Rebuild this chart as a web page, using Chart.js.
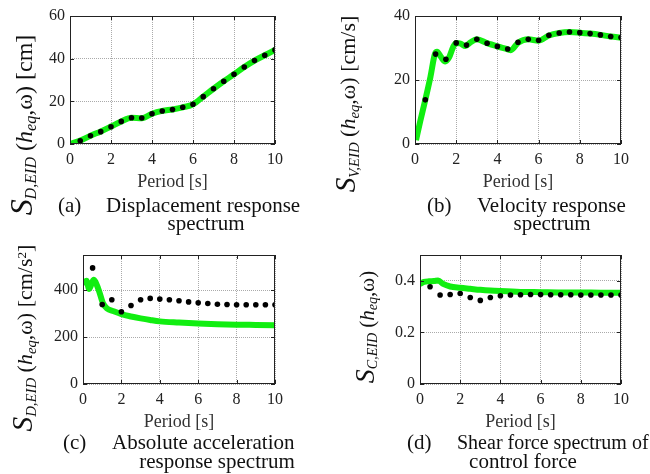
<!DOCTYPE html>
<html><head><meta charset="utf-8">
<script src="https://cdn.jsdelivr.net/npm/chart.js@4.4.0/dist/chart.umd.min.js"></script>
<style>
html,body{margin:0;padding:0;background:#fff;}
#wrap{position:relative;width:650px;height:474px;overflow:hidden;font-family:"Liberation Serif","Times New Roman",serif;color:#111;}
canvas.c{position:absolute;left:0;top:0;}
.yt{position:absolute;white-space:nowrap;line-height:1;transform:translate(-50%,-50%) rotate(-90deg);}
.yt .S{font-size:1.33em;font-style:italic;}
.yt i{font-style:italic;}
.yt sub{font-size:0.67em;font-style:italic;vertical-align:-0.22em;line-height:0;}
.yt sup{font-size:0.6em;vertical-align:0.45em;line-height:0;}
.cap{position:absolute;white-space:nowrap;font-size:21px;line-height:21px;}
.ctr{transform:translateX(-50%);}
</style></head>
<body>
<div id="wrap">
<canvas class="c" id="cA" width="650" height="474"></canvas>
<canvas class="c" id="cB" width="650" height="474"></canvas>
<canvas class="c" id="cC" width="650" height="474"></canvas>
<canvas class="c" id="cD" width="650" height="474"></canvas>

<div class="yt" style="left:22px;top:125px;font-size:24px;"><span class="S">S</span><sub>D,EID</sub> (<i>h</i><sub>eq</sub>,ω) [cm]</div>
<div class="yt" style="left:346px;top:104px;font-size:22px;"><span class="S">S</span><sub>V,EID</sub> (<i>h</i><sub>eq</sub>,ω) [cm/s]</div>
<div class="yt" style="left:23px;top:338px;font-size:22px;"><span class="S">S</span><sub>D,EID</sub> (<i>h</i><sub>eq</sub>,ω) [cm/s<sup>2</sup>]</div>
<div class="yt" style="left:365px;top:327px;font-size:21px;"><span class="S">S</span><sub>C,EID</sub> (<i>h</i><sub>eq</sub>,ω)</div>

<div class="cap" style="left:58px;top:195px;">(a)</div>
<div class="cap" style="left:106px;top:195px;">Displacement response</div>
<div class="cap ctr" style="left:206px;top:213px;">spectrum</div>

<div class="cap" style="left:427px;top:195px;">(b)</div>
<div class="cap" style="left:477px;top:195px;">Velocity response</div>
<div class="cap ctr" style="left:552px;top:213px;">spectrum</div>

<div class="cap" style="left:63px;top:432px;">(c)</div>
<div class="cap" style="left:112px;top:432px;">Absolute acceleration</div>
<div class="cap ctr" style="left:217px;top:451px;">response spectrum</div>

<div class="cap" style="left:407px;top:432px;">(d)</div>
<div class="cap" style="left:457px;top:432px;font-size:20px;">Shear force spectrum of</div>
<div class="cap ctr" style="left:523px;top:451px;">control force</div>
</div>

<script>
// ---------- data ----------
const periodTicks = [0, 2, 4, 6, 8, 10];
const dotPeriods = [0.5,1,1.5,2,2.5,3,3.5,4,4.5,5,5.5,6,6.5,7,7.5,8,8.5,9,9.5,10];

// (a) displacement [cm]
const dispTicks = [0, 20, 40, 60];
const dispDots = [1.5,3.9,5.8,8.1,10.6,12.3,12.2,14.2,15.5,16.2,17.2,18.6,22.2,25.9,29.4,32.7,36.1,39.1,41.6,44.1];
const dispLinePeriods = [0,0.5,1,1.5,2,2.5,3,3.5,4,4.5,5,5.5,6,6.5,7,7.5,8,8.5,9,9.5,10];
const dispLine = [0,1.6,3.9,5.9,8.2,10.6,12.3,12.1,14.2,15.5,16.2,17.2,18.6,22.2,25.9,29.4,32.7,36.1,39.1,41.6,44.1];

// (b) velocity [cm/s]
const velTicks = [0, 20, 40];
const velDots = [13.8,28.1,26.5,31.6,30.9,32.7,31.5,30.5,29.7,31.8,32.7,32.4,34.0,34.7,35.0,34.8,34.5,34.1,33.6,33.3];
const velLinePeriods = [0.05,0.25,0.5,0.75,0.97,1.07,1.25,1.47,1.65,1.85,2.0,2.2,2.45,2.7,3.0,3.5,4.0,4.5,4.65,5.0,5.5,6.0,6.5,7.0,7.5,8.0,8.5,9.0,9.5,10];
const velLine = [1.2,7,13.8,21,28.2,28.8,27.3,25.8,27.0,30.3,31.6,31.4,30.6,31.8,32.7,31.5,30.5,29.6,29.3,31.6,32.7,32.3,33.9,34.7,35.0,34.8,34.5,34.1,33.6,33.3];

// (c) absolute acceleration [cm/s^2]
const accTicks = [0, 200, 400];
const accDots = [495,339,359,308,335,359,365,362,359,355,350,346,343,340,339,338,338,338,338,338];
const accLinePeriods = [0,0.18,0.32,0.55,0.8,1.05,1.25,1.6,2.0,2.5,3.0,3.5,4.0,5.0,6.0,7.0,8.0,9.0,10];
const accLine = [428,440,405,445,405,343,322,310,298,288,280,273,267,262,258,255,253,252,251];

// (d) shear force coefficient
const shearTicks = [0, 0.2, 0.4];
const shearDots = [0.377,0.345,0.347,0.351,0.335,0.324,0.335,0.342,0.345,0.346,0.347,0.347,0.346,0.346,0.346,0.345,0.345,0.345,0.345,0.345];
const shearLinePeriods = [0,0.2,0.45,0.7,0.9,1.15,1.5,2.0,2.5,3.0,3.5,4.0,5.0,6.0,7.0,8.0,9.0,10];
const shearLine = [0.387,0.396,0.398,0.399,0.401,0.388,0.378,0.373,0.369,0.365,0.362,0.360,0.357,0.356,0.355,0.355,0.354,0.354];

// ---------- drawing ----------
const FONT = '"Liberation Serif","Times New Roman",serif';
const GREEN = '#11ee11';
const pts = (xs, ys) => xs.map((x, i) => ({x: x, y: ys[i]}));

const framePlugin = {
  id: 'frame',
  afterDraw(chart) {
    const {ctx, chartArea: a, scales} = chart;
    ctx.save();
    ctx.strokeStyle = '#222';
    ctx.lineWidth = 1;
    ctx.strokeRect(Math.round(a.left) + 0.5, Math.round(a.top) + 0.5,
                   Math.round(a.right - a.left) - 1, Math.round(a.bottom - a.top) - 1);
    ctx.beginPath();
    const tl = 4;
    scales.x.ticks.forEach(t => {
      const px = Math.round(scales.x.getPixelForValue(t.value)) + 0.5;
      ctx.moveTo(px, a.bottom); ctx.lineTo(px, a.bottom - tl);
      ctx.moveTo(px, a.top); ctx.lineTo(px, a.top + tl);
    });
    scales.y.ticks.forEach(t => {
      const py = Math.round(scales.y.getPixelForValue(t.value)) + 0.5;
      ctx.moveTo(a.left, py); ctx.lineTo(a.left + tl, py);
      ctx.moveTo(a.right, py); ctx.lineTo(a.right - tl, py);
    });
    ctx.stroke();
    ctx.restore();
  }
};

function panel(id, box, yMax, yTicks, yFmt, dotY, lineX, lineY) {
  const yW = 40, xH = 50;
  new Chart(document.getElementById(id), {
    type: 'scatter',
    data: {
      datasets: [
        { data: pts(dotPeriods, dotY), showLine: false, pointRadius: 2.8, pointHoverRadius: 2.8,
          pointBackgroundColor: '#000', pointBorderWidth: 0, order: 1 },
        { data: pts(lineX, lineY), showLine: true, borderColor: GREEN, borderWidth: 6,
          pointRadius: 0, cubicInterpolationMode: 'monotone', borderCapStyle: 'butt', order: 2 }
      ]
    },
    options: {
      responsive: false, animation: false, devicePixelRatio: 1,
      layout: { padding: { left: box.l - yW, right: 650 - box.r, top: box.t, bottom: 474 - box.b - xH } },
      plugins: { legend: { display: false }, tooltip: { enabled: false } },
      scales: {
        x: {
          type: 'linear', min: 0, max: 10,
          afterBuildTicks: s => { s.ticks = periodTicks.map(v => ({value: v})); },
          afterFit: s => { s.height = xH; },
          ticks: { font: { family: FONT, size: 16 }, color: '#222', padding: 6, maxRotation: 0, autoSkip: false },
          grid: { color: '#aaa', lineWidth: 1, drawTicks: false },
          border: { display: false, dash: [1, 1] },
          title: { display: true, text: 'Period [s]', color: '#333', font: { family: FONT, size: 18 }, padding: { top: 0, bottom: 1 } }
        },
        y: {
          type: 'linear', min: 0, max: yMax,
          afterBuildTicks: s => { s.ticks = yTicks.map(v => ({value: v})); },
          afterFit: s => { s.width = yW; },
          ticks: { font: { family: FONT, size: 16 }, color: '#222', padding: 5, callback: yFmt },
          grid: { color: '#aaa', lineWidth: 1, drawTicks: false },
          border: { display: false, dash: [1, 1] }
        }
      }
    },
    plugins: [framePlugin]
  });
}

const intFmt = v => String(v);
const decFmt = v => (v === 0 ? '0' : v.toFixed(1));

panel('cA', {l: 70, r: 275, t: 16, b: 144}, 60, dispTicks, intFmt, dispDots, dispLinePeriods, dispLine);
panel('cB', {l: 415, r: 621, t: 16, b: 144}, 40, velTicks, intFmt, velDots, velLinePeriods, velLine);
panel('cC', {l: 83, r: 275, t: 255, b: 384}, 550, accTicks, intFmt, accDots, accLinePeriods, accLine);
panel('cD', {l: 420, r: 621, t: 255, b: 384}, 0.5, shearTicks, decFmt, shearDots, shearLinePeriods, shearLine);
</script>
</body></html>
